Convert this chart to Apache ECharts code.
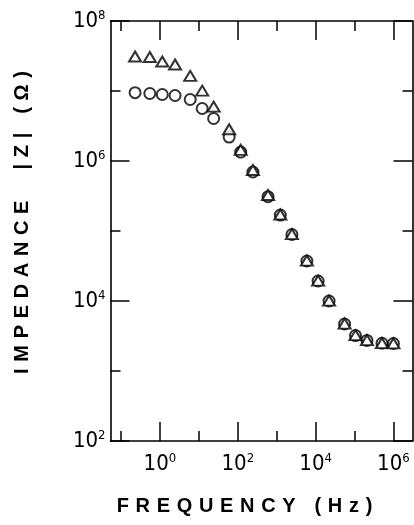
<!DOCTYPE html>
<html>
<head>
<meta charset="utf-8">
<script src="https://cdn.jsdelivr.net/npm/echarts@6/dist/echarts.min.js"></script>
<style>
  html, body { margin: 0; padding: 0; background: #fff; }
  #chart { width: 414px; height: 525px; }
</style>
</head>
<body>
<div id="chart"></div>
<script>
// Measurement frequencies (Hz)
const freqHz = [0.23, 0.55, 1.15, 2.45, 6.0, 12.2, 24, 60, 119, 245, 600, 1240, 2460, 5970, 11600, 22200, 55500, 106000, 209000, 508000, 1000000];
// |Z| (ohm), circle series
const circleZ = [9.47e6, 9.21e6, 8.91e6, 8.63e6, 7.56e6, 5.62e6, 4.05e6, 2.20e6, 1.34e6, 6.96e5, 3.09e5, 1.69e5, 8.91e4, 3.73e4, 1.93e4, 1.0e4, 4.69e3, 3.21e3, 2.73e3, 2.49e3, 2.47e3];
// |Z| (ohm), triangle series
const triangleZ = [3.11e7, 3.06e7, 2.64e7, 2.39e7, 1.64e7, 1.01e7, 5.97e6, 2.84e6, 1.44e6, 7.43e5, 3.27e5, 1.72e5, 9.0e4, 3.78e4, 1.95e4, 1.01e4, 4.75e3, 3.25e3, 2.76e3, 2.5e3, 2.48e3];

// Decade ticks
const xMajorTicks = [1, 1e2, 1e4, 1e6];
const xMinorTicks = [1e-1, 1e1, 1e3, 1e5];
const yMajorTicks = [1e2, 1e4, 1e6, 1e8];
const yMinorTicks = [1e3, 1e5, 1e7];

const xMin = Math.pow(10, -1.27);
const xMax = Math.pow(10, 6.49);
const yMin = 1e2;
const yMax = 1e8;

// Spaced-out axis titles
const gap = '\u2004';
const spaced = s => s.split('').join(gap);
const xTitle = spaced('FREQUENCY') + gap + ' ' + gap + spaced('(Hz)');
const yTitle = spaced('IMPEDANCE') + gap + ' ' + gap + ' ' + gap + spaced('|Z|') + gap + ' ' + gap + spaced('(\u03A9)');

const ink = '#000';
const gridBox = { left: 110.5, right: 1.5, top: 21, bottom: 84 };
const labelFont = '"Liberation Sans Narrow", "DejaVu Sans Condensed", sans-serif';
const titleFont = '"Liberation Sans", Arial, sans-serif';

const powLabel = {
  formatter: v => '{b|10}{s|' + Math.round(Math.log10(v)) + '}',
  rich: {
    b: { fontSize: 22, fontFamily: labelFont, color: ink, lineHeight: 24, verticalAlign: 'middle' },
    s: { fontSize: 13, fontFamily: labelFont, color: ink, lineHeight: 13, verticalAlign: 'top' }
  }
};

function logAxis(opts) {
  return Object.assign({
    type: 'log',
    logBase: 10,
    splitLine: { show: false },
    axisLine: { show: true, lineStyle: { color: ink, width: 1.6 } },
    axisLabel: { show: false }
  }, opts);
}

const tickMajor = vals => ({ show: true, inside: true, length: 19, customValues: vals, lineStyle: { color: ink, width: 1.5 } });
const tickMinor = vals => ({ show: true, inside: true, length: 10, customValues: vals, lineStyle: { color: ink, width: 1.5 } });

const option = {
  backgroundColor: '#fff',
  animation: false,
  grid: [
    Object.assign({}, gridBox),
    Object.assign({}, gridBox)
  ],
  xAxis: [
    logAxis({
      gridIndex: 0, position: 'bottom', min: xMin, max: xMax,
      axisTick: tickMajor(xMajorTicks),
      axisLabel: Object.assign({ show: true, margin: 11, customValues: xMajorTicks }, powLabel),
      name: xTitle, nameLocation: 'middle', nameGap: 55,
      nameTextStyle: { fontSize: 20, fontWeight: 'bold', fontFamily: titleFont, color: ink, padding: [0, 34, 0, 0] }
    }),
    logAxis({ gridIndex: 0, position: 'top', min: xMin, max: xMax, axisTick: tickMajor(xMajorTicks) }),
    logAxis({ gridIndex: 1, position: 'bottom', min: xMin, max: xMax, axisLine: { show: false }, axisTick: tickMinor(xMinorTicks) }),
    logAxis({ gridIndex: 1, position: 'top', min: xMin, max: xMax, axisLine: { show: false }, axisTick: tickMinor(xMinorTicks) })
  ],
  yAxis: [
    logAxis({
      gridIndex: 0, position: 'left', min: yMin, max: yMax,
      axisTick: tickMajor(yMajorTicks),
      axisLabel: Object.assign({ show: true, margin: 5, customValues: yMajorTicks }, powLabel),
      name: yTitle, nameLocation: 'middle', nameGap: 78, nameRotate: 90,
      nameTextStyle: { fontSize: 20, fontWeight: 'bold', fontFamily: titleFont, color: ink, padding: [0, 0, 0, 17] }
    }),
    logAxis({ gridIndex: 0, position: 'right', min: yMin, max: yMax, axisTick: tickMajor(yMajorTicks) }),
    logAxis({ gridIndex: 1, position: 'left', min: yMin, max: yMax, axisLine: { show: false }, axisTick: tickMinor(yMinorTicks) }),
    logAxis({ gridIndex: 1, position: 'right', min: yMin, max: yMax, axisLine: { show: false }, axisTick: tickMinor(yMinorTicks) })
  ],
  series: [
    {
      name: 'circle',
      type: 'scatter',
      xAxisIndex: 0, yAxisIndex: 0,
      symbol: 'circle',
      symbolSize: 11,
      itemStyle: { color: '#fff', borderColor: ink, borderWidth: 2 },
      data: freqHz.map((f, i) => [f, circleZ[i]])
    },
    {
      name: 'triangle',
      type: 'scatter',
      xAxisIndex: 0, yAxisIndex: 0,
      symbol: 'triangle',
      symbolSize: [12, 10],
      itemStyle: { color: '#fff', borderColor: ink, borderWidth: 2 },
      data: freqHz.map((f, i) => [f, triangleZ[i]])
    }
  ]
};

const chart = echarts.init(document.getElementById('chart'), null, { renderer: 'canvas' });
chart.setOption(option);
</script>
</body>
</html>
